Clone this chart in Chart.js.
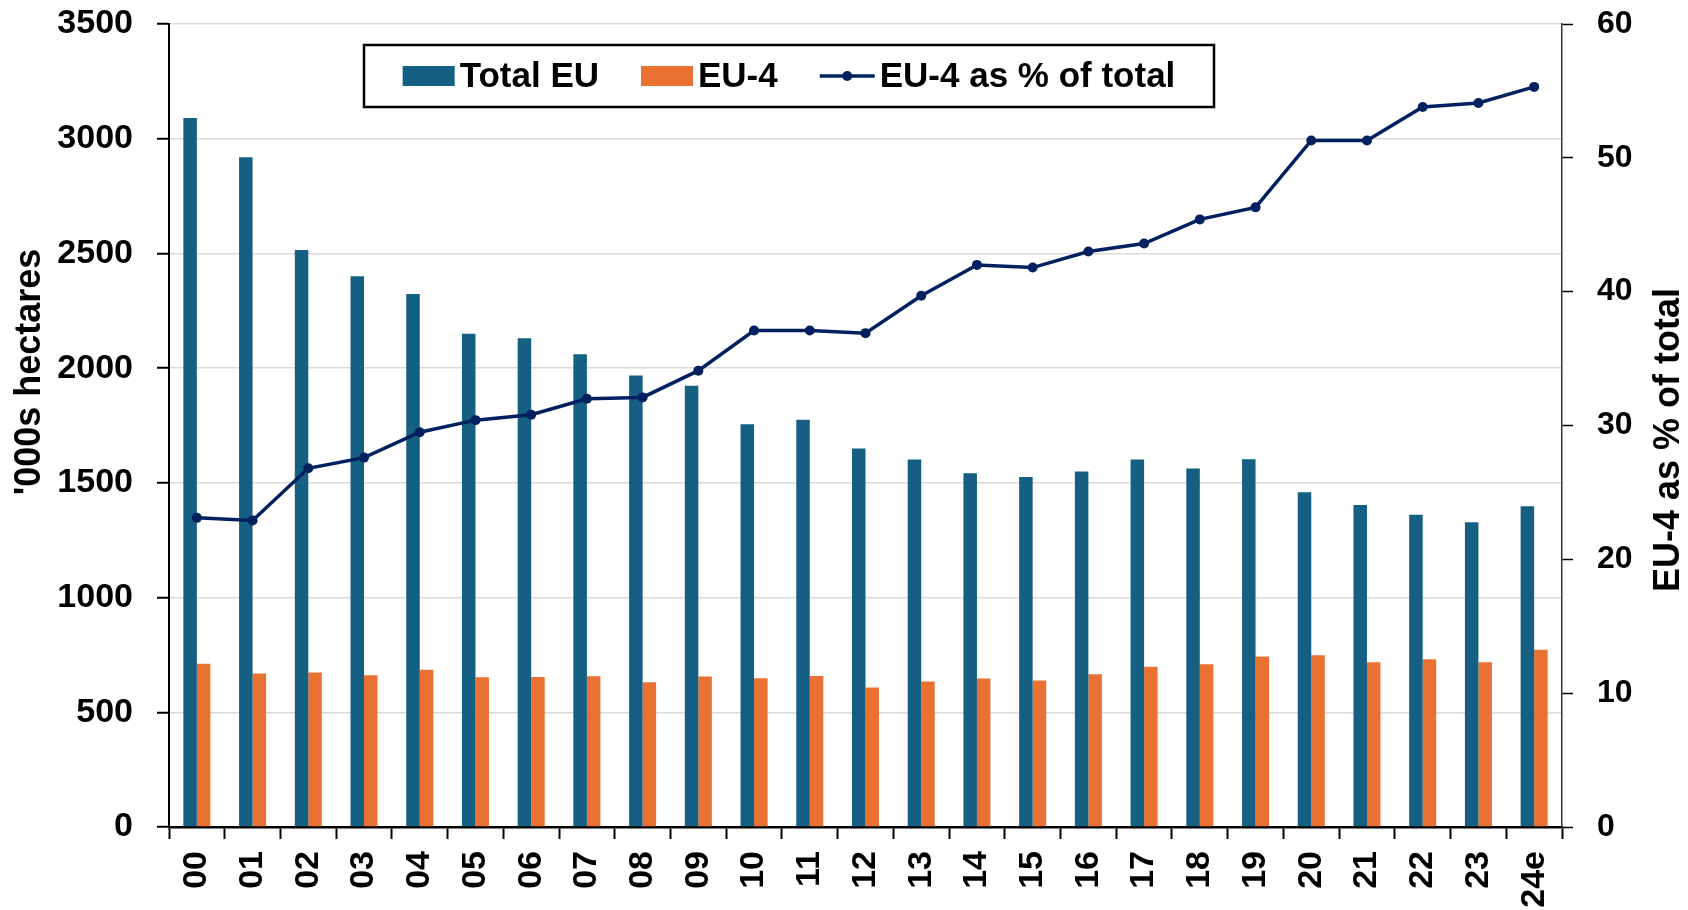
<!DOCTYPE html>
<html>
<head>
<meta charset="utf-8">
<script src="https://cdn.jsdelivr.net/npm/chart.js@4.4.1/dist/chart.umd.min.js"></script>
<style>
  html, body { margin: 0; padding: 0; background: #fff; }
  #wrap { width: 1688px; height: 910px; }
</style>
</head>
<body>
<div id="wrap"><canvas id="myChart" width="1688" height="910"></canvas></div>
<script>
// years (20xx), 24e = estimate
var years = ['00','01','02','03','04','05','06','07','08','09','10','11','12',
             '13','14','15','16','17','18','19','20','21','22','23','24e'];
var totalEU = [3090, 2919, 2515, 2400, 2323, 2150, 2130, 2061, 1968, 1923, 1755, 1775, 1650,
               1602, 1542, 1526, 1550, 1602, 1563, 1603, 1459, 1403, 1361, 1328, 1398];
var eu4 = [712, 669, 673, 661, 685, 653, 654, 657, 631, 656, 648, 658, 608,
           634, 647, 638, 666, 698, 709, 743, 749, 718, 731, 718, 773];
var eu4Share = [23.1, 22.9, 26.8, 27.6, 29.5, 30.4, 30.8, 32.0, 32.1, 34.1, 37.1, 37.1, 36.9,
                39.7, 42.0, 41.8, 43.0, 43.6, 45.4, 46.3, 51.3, 51.3, 53.8, 54.1, 55.3];
var leftTicks = [0, 3500, 500];
var rightTicks = [0, 60, 10];
var leftTitle = "'000s hectares";
var rightTitle = 'EU-4 as % of total';

var BLUE = '#156082', ORANGE = '#E97132', NAVY = '#002060';
var FONT = '"Liberation Sans", Arial, sans-serif';

Chart.defaults.font.family = FONT;
Chart.defaults.color = '#000';

// boxed legend + axis titles drawn by hand
var extras = {
  id: 'extras',
  afterDraw: function(chart) {
    var ctx = chart.ctx;
    ctx.save();
    ctx.fillStyle = '#000';
    ctx.font = 'bold 36px ' + FONT;
    ctx.textAlign = 'center';
    ctx.textBaseline = 'middle';
    ctx.save();
    ctx.translate(30, 372);
    ctx.rotate(-Math.PI / 2);
    ctx.fillText(leftTitle, 0, 0);
    ctx.restore();
    ctx.save();
    ctx.translate(1669, 440);
    ctx.rotate(-Math.PI / 2);
    ctx.fillText(rightTitle, 0, 0);
    ctx.restore();

    // legend box
    var bx = 364, by = 45, bw = 850, bh = 62;
    ctx.fillStyle = '#fff';
    ctx.fillRect(bx, by, bw, bh);
    ctx.strokeStyle = '#000';
    ctx.lineWidth = 2.5;
    ctx.strokeRect(bx, by, bw, bh);

    ctx.font = 'bold 35px ' + FONT;
    ctx.textAlign = 'left';
    var sets = chart.data.datasets;
    var sw = [52, 52, 55], gap = 5, space = 42;
    var total = 0;
    sets.forEach(function(d, i) {
      total += sw[i] + gap + ctx.measureText(d.label).width;
      if (i < sets.length - 1) total += space;
    });
    var x = bx + (bw - total) / 2;
    var cy = by + bh / 2;
    sets.forEach(function(d, i) {
      if (d.type === 'line') {
        ctx.strokeStyle = d.borderColor;
        ctx.lineWidth = 3.5;
        ctx.beginPath();
        ctx.moveTo(x, cy);
        ctx.lineTo(x + sw[i], cy);
        ctx.stroke();
        ctx.fillStyle = d.borderColor;
        ctx.beginPath();
        ctx.arc(x + sw[i] / 2, cy, 5, 0, Math.PI * 2);
        ctx.fill();
      } else {
        ctx.fillStyle = d.backgroundColor;
        ctx.fillRect(x, cy - 10, sw[i], 20);
      }
      x += sw[i] + gap;
      ctx.fillStyle = '#000';
      ctx.fillText(d.label, x, cy + 1);
      x += ctx.measureText(d.label).width + space;
    });
    ctx.restore();
  }
};

function fitY(width) {
  return function(s) {
    s.width = width;
    s.paddingTop = 0;
    s.paddingBottom = 0;
  };
}

var ctx = document.getElementById('myChart').getContext('2d');
var myChart = new Chart(ctx, {
  type: 'bar',
  data: {
    labels: years,
    datasets: [{
      label: 'Total EU',
      data: totalEU,
      backgroundColor: BLUE,
      yAxisID: 'y',
      order: 2
    }, {
      label: 'EU-4',
      data: eu4,
      backgroundColor: ORANGE,
      yAxisID: 'y',
      order: 2
    }, {
      type: 'line',
      label: 'EU-4 as % of total',
      data: eu4Share,
      borderColor: NAVY,
      backgroundColor: NAVY,
      borderWidth: 3.5,
      pointRadius: 5,
      pointBorderWidth: 0,
      pointBackgroundColor: NAVY,
      tension: 0,
      yAxisID: 'y1',
      order: 0
    }]
  },
  options: {
    responsive: false,
    animation: false,
    layout: { padding: { top: 24, left: 0, right: 0, bottom: 0 } },
    datasets: {
      bar: { categoryPercentage: 0.485, barPercentage: 1.0 }
    },
    plugins: {
      legend: { display: false },
      tooltip: { enabled: false }
    },
    scales: {
      x: {
        offset: true,
        afterFit: function(s) { s.height = 83; },
        grid: { display: true, offset: true, drawOnChartArea: false, drawTicks: true,
                tickLength: 12, tickColor: '#000', tickWidth: 2 },
        border: { display: true, color: '#000', width: 2.5 },
        ticks: { autoSkip: false, minRotation: 90, maxRotation: 90, padding: 12,
                 color: '#000', font: { size: 34, weight: 'bold' } }
      },
      y: {
        position: 'left',
        min: leftTicks[0], max: leftTicks[1],
        afterFit: fitY(169),
        grid: { color: '#d9d9d9', lineWidth: 1.5, drawTicks: true, tickLength: 12,
                tickColor: '#000', tickWidth: 2 },
        border: { display: true, color: '#000', width: 2 },
        ticks: { stepSize: leftTicks[2], padding: 24, color: '#000',
                 callback: function(v) { return String(v); },
                 font: { size: 34, weight: 'bold' } }
      },
      y1: {
        position: 'right',
        min: rightTicks[0], max: rightTicks[1],
        afterFit: fitY(126),
        grid: { drawOnChartArea: false, drawTicks: true, tickLength: 11,
                tickColor: '#000', tickWidth: 1.5 },
        border: { display: true, color: '#333', width: 1.5 },
        ticks: { stepSize: rightTicks[2], padding: 24, color: '#000',
                 callback: function(v) { return String(v); },
                 font: { size: 32, weight: 'bold' } }
      }
    }
  },
  plugins: [extras]
});
</script>
</body>
</html>
